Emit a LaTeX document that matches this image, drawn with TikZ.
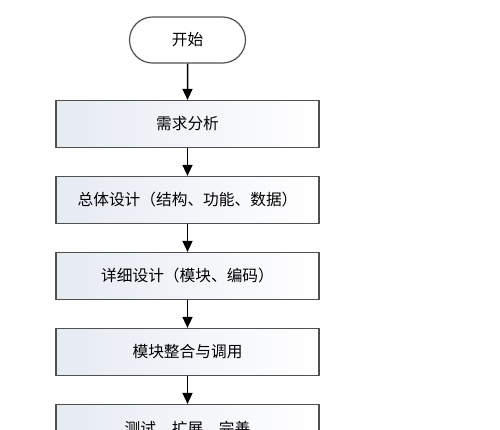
\documentclass[tikz,border=0pt]{standalone}
\usepackage{fontspec}
\newfontfamily\cjk{Noto Sans CJK SC}
\usetikzlibrary{arrows.meta,shapes.misc}
\definecolor{edge}{HTML}{505050}
\definecolor{fillL}{HTML}{E6EAF3}
\begin{document}
\begin{tikzpicture}[x=1pt,y=-1pt,
  stepbox/.style={draw=edge,line width=1.2pt,minimum width=263pt,minimum height=47pt,
    left color=fillL,right color=white,font=\cjk\fontsize{15.7}{17}\selectfont,inner sep=0pt},
  term/.style={draw=edge,line width=1.2pt,rounded rectangle,minimum width=116pt,minimum height=46pt,
    fill=white,font=\cjk\fontsize{15.7}{17}\selectfont,inner sep=0pt},
  flow/.style={-{Triangle[length=11pt,width=10pt]},line width=1.5pt,black}]
\useasboundingbox (0,0) rectangle (500,429);
\clip (0,0) rectangle (500,429);
\node[term] (s) at (187.5,40) {开始};
\node[stepbox] (b1) at (187.5,124) {需求分析};
\node[stepbox] (b2) at (187.5,200) {总体设计（结构、功能、数据）};
\node[stepbox] (b3) at (187.5,276) {详细设计（模块、编码）};
\node[stepbox] (b4) at (187.5,352) {模块整合与调用};
\node[stepbox] (b5) at (187.5,428) {测试、扩展、完善};
\draw[flow] (s) -- (b1);
\draw[flow] (b1) -- (b2);
\draw[flow] (b2) -- (b3);
\draw[flow] (b3) -- (b4);
\draw[flow] (b4) -- (b5);
\end{tikzpicture}
\end{document}
